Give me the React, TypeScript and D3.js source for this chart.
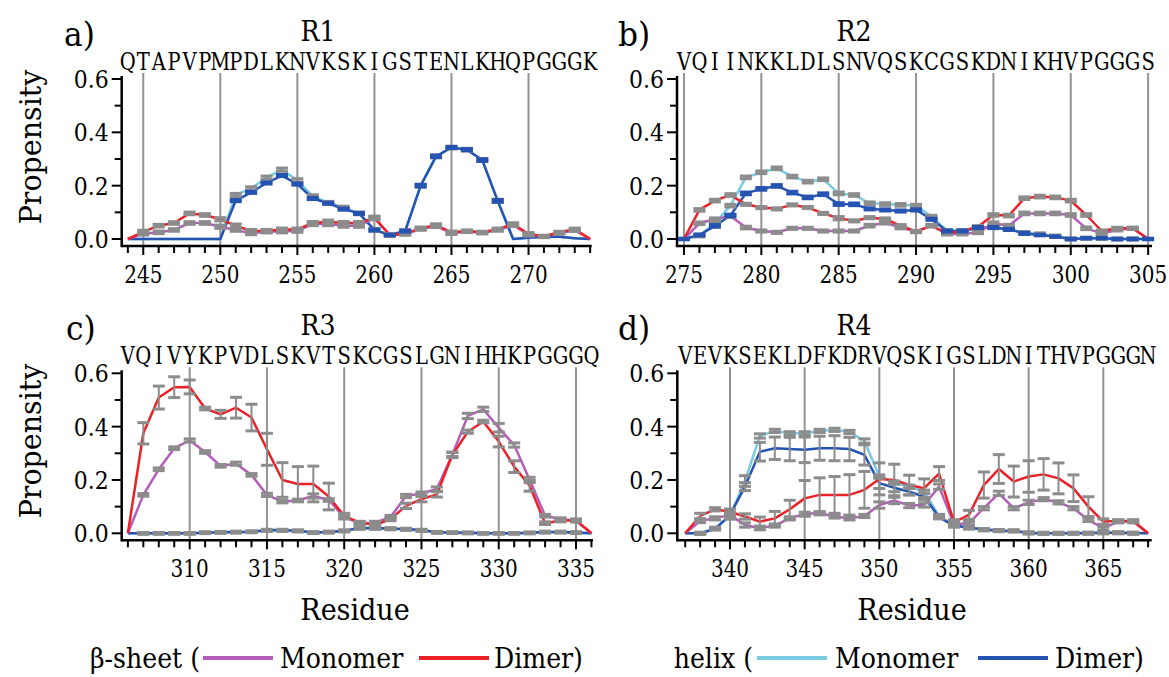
import React from 'react'
import * as d3 from 'd3'

// sequences (one letter per residue)
const seqR1 = 'QTAPVPMPDLKNVKSKIGSTENLKHQPGGGK'.split('')
const seqR2 = 'VQIINKKLDLSNVQSKCGSKDNIKHVPGGGS'.split('')
const seqR3 = 'VQIVYKPVDLSKVTSKCGSLGNIHHKPGGGQ'.split('')
const seqR4 = 'VEVKSEKLDFKDRVQSKIGSLDNITHVPGGGN'.split('')

const ticksR1 = [245, 250, 255, 260, 265, 270]
const ticksR2 = [275, 280, 285, 290, 295, 300, 305]
const ticksR3 = [310, 315, 320, 325, 330, 335]
const ticksR4 = [340, 345, 350, 355, 360, 365]
const yTicks = [0, 0.2, 0.4, 0.6]
const yMinor = [0.1, 0.3, 0.5]

// R1 : residues 244-274
const sheetMonoR1 = [0, .02, .025, .034, .06, .06, .046, .034, .021, .028, .028, .031, .056, .056, .05, .05, .078, .014, .018, .038, .048, .022, .028, .023, .033, .052, .016, .009, .022, .032, 0]
const sheetMonoR1Err = [0, .005, .005, .005, .005, .005, .006, .005, .005, .005, .005, .006, .006, .006, .006, .006, .006, .004, .004, .005, .005, .005, .004, .004, .004, .005, .005, .004, .004, .004, 0]
const sheetDimR1 = [0, .027, .05, .06, .096, .09, .074, .05, .03, .03, .036, .036, .06, .065, .06, .06, .08, .015, .02, .04, .052, .025, .03, .025, .037, .056, .019, .01, .025, .037, 0]
const sheetDimR1Err = [0, .006, .005, .005, .005, .005, .006, .006, .006, .006, .005, .005, .006, .006, .006, .006, .006, .004, .004, .005, .005, .005, .004, .004, .004, .005, .005, .004, .004, .004, 0]
const helixMonoR1 = [0, 0, 0, 0, 0, 0, 0, .165, .19, .23, .26, .22, .16, .136, .118, .096, .034, .015, .03, .2, .31, .343, .335, .296, .143, 0, .006, .008, .008, .003, 0]
const helixMonoR1Err = [0, 0, 0, 0, 0, 0, 0, .006, .006, .006, .006, .006, .006, .005, .005, .005, .005, .004, .004, .005, .005, .005, .005, .005, .006, 0, 0, 0, 0, 0, 0]
const helixDimR1 = [0, 0, 0, 0, 0, 0, 0, .144, .175, .21, .238, .206, .152, .134, .112, .096, .034, .015, .03, .2, .31, .343, .335, .296, .143, 0, .005, .008, .008, .003, 0]
const helixDimR1Err = [0, 0, 0, 0, 0, 0, 0, .004, .004, .004, .004, .004, .004, .004, .004, .004, .004, .003, .004, .005, .005, .004, .004, .005, .005, 0, 0, 0, 0, 0, 0]

// R2 : residues 275-305
const sheetMonoR2 = [0, .059, .074, .086, .043, .03, .025, .04, .04, .03, .03, .03, .05, .061, .043, .028, .05, .019, .019, .024, .059, .05, .096, .096, .096, .09, .04, .021, .034, .04, 0]
const sheetMonoR2Err = [0, .005, .005, .005, .005, .004, .004, .004, .004, .004, .004, .004, .005, .005, .005, .004, .005, .004, .004, .004, .005, .005, .005, .005, .005, .005, .005, .004, .004, .004, 0]
const sheetDimR2 = [0, .109, .144, .165, .13, .118, .113, .128, .118, .096, .078, .068, .08, .075, .05, .028, .05, .021, .03, .046, .09, .088, .153, .159, .156, .144, .09, .03, .04, .04, 0]
const sheetDimR2Err = [0, .005, .005, .005, .004, .004, .004, .004, .004, .004, .006, .004, .004, .004, .004, .004, .004, .004, .004, .004, .005, .005, .005, .005, .005, .005, .005, .004, .004, .004, 0]
const helixMonoR2 = [0, .012, .059, .125, .231, .25, .265, .234, .215, .224, .171, .165, .134, .131, .128, .125, .084, .031, .031, .04, .046, .036, .024, .019, .011, 0, .003, .003, 0, 0, 0]
const helixMonoR2Err = [0, .004, .005, .005, .005, .005, .005, .005, .005, .005, .005, .005, .005, .005, .005, .005, .005, .004, .004, .004, .004, .004, .004, .004, .004, .004, .004, .004, .004, .004, 0]
const helixDimR2 = [0, .015, .049, .088, .171, .188, .199, .174, .156, .168, .131, .13, .113, .109, .105, .109, .074, .03, .03, .043, .043, .036, .021, .015, .009, 0, .003, .003, 0, 0, 0]
const helixDimR2Err = [.003, .004, .005, .005, .005, .005, .005, .005, .005, .005, .005, .005, .004, .004, .004, .004, .004, .004, .004, .004, .004, .004, .004, .003, .003, .003, .003, .003, .003, .003, .003]

// R3 : residues 306-336
const sheetMonoR3 = [0, .144, .24, .319, .348, .305, .253, .261, .219, .144, .119, .123, .14, .125, .06, .038, .04, .061, .14, .149, .166, .296, .44, .465, .396, .331, .2, .066, .053, .048, 0]
const sheetMonoR3Err = [0, .005, .005, .005, .006, .005, .005, .006, .005, .006, .005, .005, .008, .005, .006, .005, .005, .006, .006, .006, .008, .008, .01, .008, .016, .008, .01, .005, .005, .005, 0]
const sheetDimR3 = [0, .375, .509, .548, .549, .468, .446, .471, .434, .315, .2, .185, .185, .138, .065, .04, .031, .053, .103, .128, .146, .294, .381, .419, .344, .25, .178, .038, .048, .048, 0]
const sheetDimR3Err = [0, .04, .043, .039, .026, .005, .015, .039, .05, .06, .065, .065, .067, .05, .01, .005, .005, .006, .01, .01, .01, .01, .006, .005, .02, .022, .02, .005, .005, .005, 0]
const helixMonoR3 = [0, 0, 0, 0, 0, .002, .003, .004, .005, .01, .01, .008, .002, .004, .008, .018, .018, .016, .014, .01, .003, .002, .001, 0, 0, 0, .001, .004, .004, .002, 0]
const helixMonoR3Err = [0, .003, .003, .003, .003, .003, .003, .003, .003, .003, .003, .003, .003, .003, .003, .003, .003, .003, .003, .003, .003, .003, .003, .003, .003, .003, .003, .003, .003, .003, 0]
const helixDimR3 = [0, 0, 0, 0, 0, .002, .004, .005, .006, .012, .012, .01, .003, .005, .01, .02, .02, .018, .016, .012, .004, .003, .002, 0, 0, 0, .002, .005, .005, .003, 0]
const helixDimR3Err = [0, .003, .003, .003, .003, .003, .003, .003, .003, .003, .003, .003, .003, .003, .003, .003, .003, .003, .003, .003, .003, .003, .003, .003, .003, .003, .003, .003, .003, .003, 0]

// R4 : residues 337-368
const sheetMonoR4 = [0, .046, .056, .069, .031, .019, .029, .056, .073, .075, .063, .056, .065, .106, .123, .104, .106, .175, .034, .038, .094, .15, .094, .116, .128, .116, .094, .05, .019, .044, .044, 0]
const sheetMonoR4Err = [0, .006, .006, .01, .008, .006, .006, .006, .006, .006, .006, .006, .006, .012, .012, .008, .008, .01, .008, .006, .006, .008, .006, .008, .006, .006, .006, .006, .006, .005, .005, 0]
const sheetDimR4 = [0, .065, .09, .081, .063, .044, .056, .09, .131, .144, .144, .144, .163, .204, .2, .181, .169, .224, .041, .069, .181, .241, .194, .213, .221, .206, .169, .1, .044, .046, .046, 0]
const sheetDimR4Err = [0, .01, .006, .01, .01, .017, .026, .034, .067, .064, .069, .076, .069, .06, .059, .037, .035, .026, .01, .017, .049, .054, .058, .059, .059, .058, .05, .037, .01, .005, .005, 0]
const helixMonoR4 = [0, 0, .019, .063, .196, .365, .384, .375, .375, .384, .388, .38, .346, .213, .19, .175, .156, .065, .029, .022, .013, .01, .009, .002, 0, 0, 0, 0, .002, .002, 0, 0]
const helixMonoR4Err = [0, .004, .004, .01, .02, .008, .006, .006, .006, .006, .006, .006, .008, .006, .006, .006, .006, .006, .006, .006, .004, .004, .004, .004, .004, .004, .004, .004, .004, .004, .004, 0]
const helixDimR4 = [0, 0, .016, .069, .175, .306, .319, .316, .313, .319, .319, .316, .294, .188, .171, .156, .138, .06, .029, .021, .015, .01, .009, .001, 0, 0, 0, .001, .002, .002, .001, 0]
const helixDimR4Err = [0, .003, .004, .008, .015, .035, .042, .044, .048, .045, .047, .044, .038, .02, .015, .012, .012, .006, .004, .004, .003, .003, .003, .003, .003, .003, .003, .003, .003, .003, .003, 0]

// DejaVu Serif squeezed a little so it reads closer to the Times look of the original
const FONT = '"DejaVu Serif", "Liberation Serif", Times, serif'
const C_SHEET_MONO = '#b35cba'
const C_SHEET_DIM = '#ec2026'
const C_HELIX_MONO = '#78cbe0'
const C_HELIX_DIM = '#2553b2'
const C_ERR = '#8c8c8c'
const C_GRID = '#929292'

const panels = [
  { label: 'a)', labelX: 64, title: 'R1', titleX: 318, dy: 0, left: 121.7, right: 591.7, domain: [243.6, 274.1], start: 244, seq: seqR1, ticks: ticksR1, capDim: C_HELIX_DIM,
    sm: sheetMonoR1, smE: sheetMonoR1Err, sd: sheetDimR1, sdE: sheetDimR1Err, hm: helixMonoR1, hmE: helixMonoR1Err, hd: helixDimR1, hdE: helixDimR1Err },
  { label: 'b)', labelX: 618, title: 'R2', titleX: 854, dy: 0, left: 677, right: 1152, domain: [274.55, 305.25], start: 275, seq: seqR2, ticks: ticksR2, capDim: C_HELIX_DIM,
    sm: sheetMonoR2, smE: sheetMonoR2Err, sd: sheetDimR2, sdE: sheetDimR2Err, hm: helixMonoR2, hmE: helixMonoR2Err, hd: helixDimR2, hdE: helixDimR2Err },
  { label: 'c)', labelX: 66, title: 'R3', titleX: 318, dy: 294.3, left: 121.7, right: 593, domain: [305.6, 336.1], start: 306, seq: seqR3, ticks: ticksR3, capDim: C_ERR,
    sm: sheetMonoR3, smE: sheetMonoR3Err, sd: sheetDimR3, sdE: sheetDimR3Err, hm: helixMonoR3, hmE: helixMonoR3Err, hd: helixDimR3, hdE: helixDimR3Err },
  { label: 'd)', labelX: 618, title: 'R4', titleX: 854, dy: 294.3, left: 677.3, right: 1151.7, domain: [336.47, 368.24], start: 337, seq: seqR4, ticks: ticksR4, capDim: C_ERR,
    sm: sheetMonoR4, smE: sheetMonoR4Err, sd: sheetDimR4, sdE: sheetDimR4Err, hm: helixMonoR4, hmE: helixMonoR4Err, hd: helixDimR4, hdE: helixDimR4Err },
]

// text with a horizontal squeeze
function T({ x, y, size, anchor = 'start', sx = 1, rot = 0, children }: any) {
  const tr = `translate(${x},${y})` + (rot ? ` rotate(${rot})` : '') + ` scale(${sx},1)`
  return <text transform={tr} fontSize={size} textAnchor={anchor} fontFamily={FONT}>{children}</text>
}

function Panel({ p }: { p: any }) {
  const x = d3.scaleLinear().domain(p.domain).range([p.left, p.right])
  const y = d3.scaleLinear().domain([0, 0.6]).range([239 + p.dy, 79 + p.dy])
  const axisY = y(0) + 7
  const topY = y(0.6) - 3
  const res = (i: number) => p.start + i
  const line = d3.line<number>().x((d, i) => x(res(i))).y((d) => y(d))
  const minor = d3.range(Math.ceil(p.domain[0]), Math.floor(p.domain[1]) + 1)

  const errBars = (vals: number[], errs: number[], color: string, key: string) =>
    vals.map((v, i) => {
      const e = errs[i]
      if (!e) return null
      const cx = x(res(i))
      const y1 = y(v + e), y2 = y(v - e)
      return (
        <g key={key + i} stroke={color}>
          <line x1={cx} x2={cx} y1={y1} y2={y2} strokeWidth={2} />
          <line x1={cx - 6} x2={cx + 6} y1={y1} y2={y1} strokeWidth={3} />
          <line x1={cx - 6} x2={cx + 6} y1={y2} y2={y2} strokeWidth={3} />
        </g>
      )
    })

  return (
    <g fill="#000">
      <T x={p.labelX} y={46 + p.dy} size={34} sx={0.92}>{p.label}</T>
      <T x={p.titleX} y={41 + p.dy} size={28} sx={0.9} anchor="middle">{p.title}</T>
      {p.seq.map((s: string, i: number) => (
        <T key={'s' + i} x={x(res(i))} y={70 + p.dy} size={25} sx={0.78} anchor="middle">{s}</T>
      ))}
      {/* grid */}
      {p.ticks.map((t: number) => (
        <line key={'g' + t} x1={x(t)} x2={x(t)} y1={73 + p.dy} y2={axisY} stroke={C_GRID} strokeWidth={2} />
      ))}
      {/* axes */}
      <line x1={p.left} x2={p.left} y1={topY} y2={axisY + 1.2} stroke="#000" strokeWidth={2.5} />
      <line x1={p.left} x2={p.right} y1={axisY} y2={axisY} stroke="#000" strokeWidth={2.5} />
      {yTicks.map((t) => (
        <g key={'y' + t}>
          <line x1={p.left - 10} x2={p.left} y1={y(t)} y2={y(t)} stroke="#000" strokeWidth={2} />
          <T x={p.left - 13} y={y(t) + 9} size={25} sx={0.88} anchor="end">{t.toFixed(1)}</T>
        </g>
      ))}
      {yMinor.map((t) => (
        <line key={'ym' + t} x1={p.left - 7} x2={p.left} y1={y(t)} y2={y(t)} stroke="#000" strokeWidth={2} />
      ))}
      {minor.map((t: number) => (
        <line key={'xm' + t} x1={x(t)} x2={x(t)} y1={axisY} y2={axisY + (t % 5 === 0 ? 9 : 7)} stroke="#000" strokeWidth={2} />
      ))}
      {p.ticks.map((t: number) => (
        <T key={'xl' + t} x={x(t)} y={283 + p.dy} size={25} sx={0.8} anchor="middle">{t}</T>
      ))}
      {/* series */}
      <g fill="none" strokeWidth={2.5} strokeLinejoin="round">
        <path d={line(p.hm) || ''} stroke={C_HELIX_MONO} />
        <path d={line(p.hd) || ''} stroke={C_HELIX_DIM} />
        <path d={line(p.sm) || ''} stroke={C_SHEET_MONO} />
        <path d={line(p.sd) || ''} stroke={C_SHEET_DIM} />
      </g>
      {errBars(p.hm, p.hmE, C_ERR, 'hm')}
      {errBars(p.sm, p.smE, C_ERR, 'sm')}
      {errBars(p.sd, p.sdE, C_ERR, 'sd')}
      {errBars(p.hd, p.hdE, p.capDim, 'hd')}
    </g>
  )
}

// legend: text entries anchored next to the line swatches
const legendItems = [
  { text: 'β-sheet (', x: 200, anchor: 'end' },
  { line: C_SHEET_MONO, x: 203 },
  { text: 'Monomer', x: 280, anchor: 'start' },
  { line: C_SHEET_DIM, x: 419 },
  { text: 'Dimer)', x: 494, anchor: 'start' },
  { text: 'helix (', x: 753, anchor: 'end' },
  { line: C_HELIX_MONO, x: 757 },
  { text: 'Monomer', x: 835, anchor: 'start' },
  { line: C_HELIX_DIM, x: 978 },
  { text: 'Dimer)', x: 1055, anchor: 'start' },
]

export default function App() {
  return (
    <svg width={1169} height={677} style={{ position: 'absolute', left: 0, top: 0, background: '#fff' }}>
      <rect width={1169} height={677} fill="#fff" />
      {panels.map((p, i) => <Panel key={i} p={p} />)}
      <g>
        <T x={41} y={147} rot={-90} size={30} sx={0.95} anchor="middle">Propensity</T>
        <T x={41} y={441} rot={-90} size={30} sx={0.95} anchor="middle">Propensity</T>
        <T x={355} y={620} size={30} sx={0.9} anchor="middle">Residue</T>
        <T x={912} y={620} size={30} sx={0.9} anchor="middle">Residue</T>
        {legendItems.map((d, i) =>
          d.text ? (
            <T key={i} x={d.x} y={668} size={28} sx={0.9} anchor={d.anchor}>{d.text}</T>
          ) : (
            <line key={i} x1={d.x} x2={d.x + 70} y1={658} y2={658} stroke={d.line} strokeWidth={4} />
          )
        )}
      </g>
    </svg>
  )
}
